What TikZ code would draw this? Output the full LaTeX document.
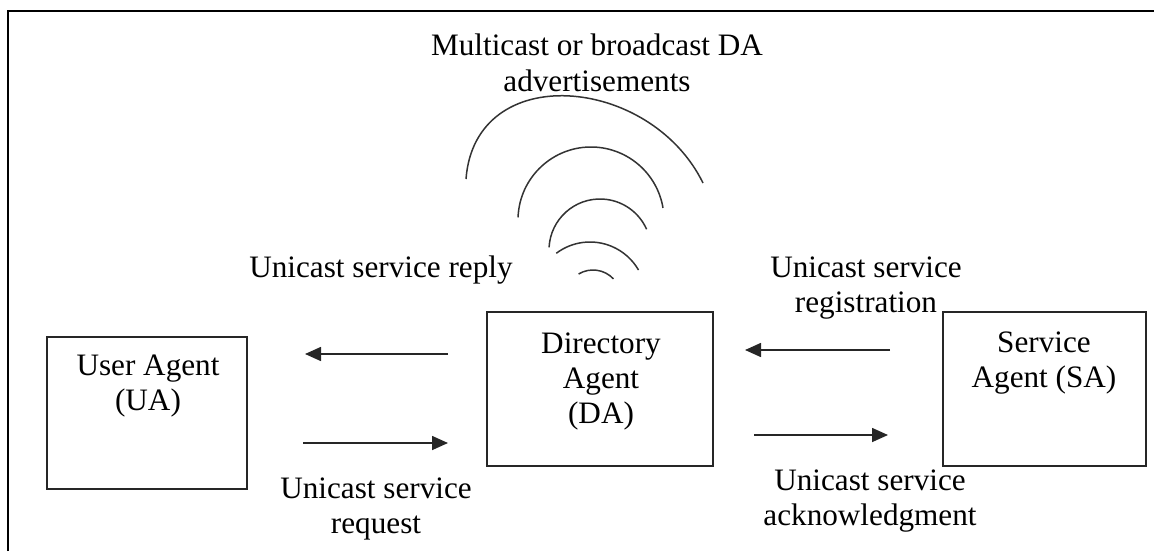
\documentclass[tikz,border=0pt]{standalone}
\usepackage{fontspec}
\setmainfont{Liberation Serif}
\usetikzlibrary{arrows.meta}
% centred block of lines whose baseline is the first line
\newcommand\stacklines[1]{\begin{tabular}[t]{@{}c@{}}#1\end{tabular}}
\begin{document}
\begin{tikzpicture}[x=0.5pt,y=0.5pt,
  every node/.style={inner sep=0pt, outer sep=0pt},
  txt/.style={font=\fontsize{15.6}{17.5}\selectfont, text=black},
  lbl/.style={txt, anchor=base},
  agentbox/.style={draw=black!85, line width=1pt, fill=white},
  flow/.style={line width=0.8pt, black!85, -{Triangle[length=8pt,width=7pt]}},
  wave/.style={line width=0.75pt, black!80}]
\useasboundingbox (0,0) rectangle (1154,-551);

% open frame (left and top edges)
\draw[line width=1pt] (8,-551) -- (8,-11) -- (1154,-11);

% agents
\node[agentbox, minimum width=100pt, minimum height=76pt] (ua) at (147,-413) {};
\node[agentbox, minimum width=113pt, minimum height=77pt] (da) at (600,-389) {};
\node[agentbox, minimum width=101.5pt, minimum height=77pt] (sa) at (1044.5,-389) {};

\node[lbl] (uatext) at (148,-375) {\stacklines{User Agent\\(UA)}};
\node[lbl] (datext) at (601,-353) {\stacklines{Directory\\Agent\\(DA)}};
\node[lbl] (satext) at (1044,-352) {\stacklines{Service\\Agent (SA)}};

% broadcast waves above the directory agent
\draw[wave] (466,-179) .. controls (475,-60) and (650,-75) .. (703,-183);
\draw[wave] (591,-220) ++(178:73) arc[start angle=178, end angle=9.5, radius=73];
\draw[wave] (600,-250) ++(177:51) arc[start angle=177, end angle=24, radius=51];
\draw[wave] (590,-298) ++(127:56) arc[start angle=127, end angle=30, radius=56];
\draw[wave] (593,-298) ++(121:28) arc[start angle=121, end angle=43, radius=28];

% message arrows
\coordinate (replyS) at (448,-354);  \coordinate (replyE) at (305,-354);
\coordinate (reqS)   at (303,-443);  \coordinate (reqE)   at (448,-443);
\coordinate (regS)   at (890,-350);  \coordinate (regE)   at (745,-350);
\coordinate (ackS)   at (754,-435);  \coordinate (ackE)   at (888,-435);
\draw[flow] (replyS) -- (replyE);
\draw[flow] (reqS) -- (reqE);
\draw[flow] (regS) -- (regE);
\draw[flow] (ackS) -- (ackE);

% labels
\node[lbl] (advlbl) at (597,-56) {\stacklines{Multicast or broadcast DA\\advertisements}};
\node[lbl] (replylbl) at (381,-277) {Unicast service reply};
\node[lbl] (reglbl) at (866,-277) {\stacklines{Unicast service\\registration}};
\node[lbl] (reqlbl) at (376,-498) {\stacklines{Unicast service\\request}};
\node[lbl] (acklbl) at (870,-490) {\stacklines{Unicast service\\acknowledgment}};
\end{tikzpicture}
\end{document}
